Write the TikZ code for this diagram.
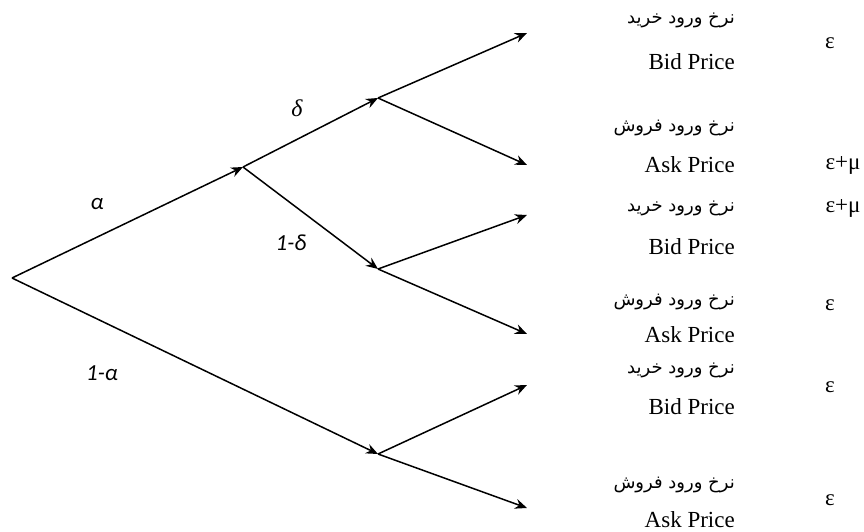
\documentclass[tikz,border=0pt]{standalone}
\usepackage{fontspec}
\setmainfont{Liberation Serif}
\newfontfamily\arabicfont[Script=Arabic]{DejaVu Sans}
\newfontfamily\calfont{Carlito}
\TeXXeTstate=1
\usetikzlibrary{arrows.meta}
\begin{document}
\begin{tikzpicture}[x=1pt,y=-1pt,
  edge/.style={line width=1.5pt,-{Stealth[length=12pt,width=10pt,inset=4pt]}},
  lbl/.style={inner sep=0pt,font=\calfont\itshape\fontsize{23}{26}\selectfont},
  sl/.style={inner sep=0pt,font=\itshape\fontsize{24}{26}\selectfont},
  ar/.style={inner sep=0pt,anchor=east,font=\arabicfont\fontsize{18}{22}\selectfont},
  en/.style={inner sep=0pt,anchor=east,font=\fontsize{23}{26}\selectfont},
  val/.style={inner sep=0pt,font=\fontsize{23}{26}\selectfont}]
\useasboundingbox (0,0) rectangle (864,532);
\coordinate (root) at (12,278);
\coordinate (A) at (243,167);
\coordinate (B) at (378,98);
\coordinate (C) at (378,269);
\coordinate (D) at (378,454);
\coordinate (e1) at (527,33);
\coordinate (e2) at (527,165);
\coordinate (e3) at (527,215);
\coordinate (e4) at (527,334);
\coordinate (e5) at (527,385);
\coordinate (e6) at (527,508);
\draw[edge] (root) -- (A);
\draw[edge] (root) -- (D);
\draw[edge] (A) -- (B);
\draw[edge] (A) -- (C);
\draw[edge] (B) -- (e1);
\draw[edge] (B) -- (e2);
\draw[edge] (C) -- (e3);
\draw[edge] (C) -- (e4);
\draw[edge] (D) -- (e5);
\draw[edge] (D) -- (e6);
\node[lbl] (la) at (97,204) {α};
\node[lbl] (l1a) at (102,373) {1-α};
\node[lbl] (l1d) at (291,243) {1-δ};
\node[sl] (ld) at (297,108) {δ};
\node[ar] (a1) at (735,20) {\beginR نرخ ورود خرید\endR};
\node[en] (b1) at (735,62) {Bid Price};
\node[ar] (a2) at (735,128) {\beginR نرخ ورود فروش\endR};
\node[en] (b2) at (735,165) {Ask Price};
\node[ar] (a3) at (735,208) {\beginR نرخ ورود خرید\endR};
\node[en] (b3) at (735,247) {Bid Price};
\node[ar] (a4) at (735,302) {\beginR نرخ ورود فروش\endR};
\node[en] (b4) at (735,335) {Ask Price};
\node[ar] (a5) at (735,370) {\beginR نرخ ورود خرید\endR};
\node[en] (b5) at (735,407) {Bid Price};
\node[ar] (a6) at (735,485) {\beginR نرخ ورود فروش\endR};
\node[en] (b6) at (735,520) {Ask Price};
\node[val] (v1) at (830,43) {ε};
\node[val] (v2) at (843,165) {ε+μ};
\node[val] (v3) at (843,208) {ε+μ};
\node[val] (v4) at (830,305) {ε};
\node[val] (v5) at (830,387) {ε};
\node[val] (v6) at (830,500) {ε};
\end{tikzpicture}
\end{document}
